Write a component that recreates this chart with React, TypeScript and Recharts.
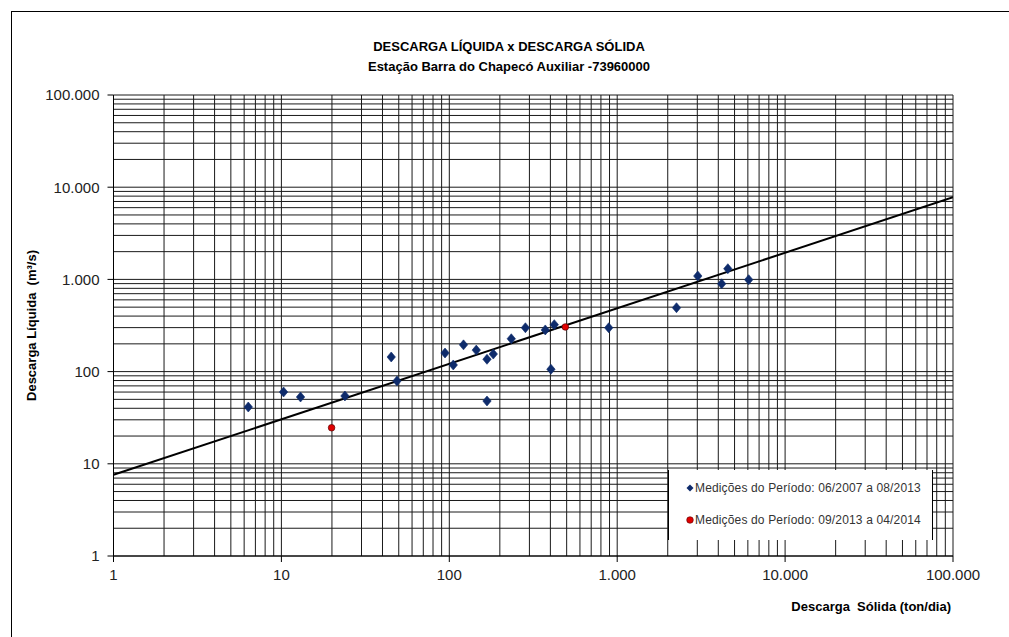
import React from 'react';
import { ScatterChart, Scatter, XAxis, YAxis, CartesianGrid, Legend, Label } from 'recharts';

// ---- data ----
const majorTicks = [1, 10, 100, 1000, 10000, 100000];
const majorLabels = ['1', '10', '100', '1.000', '10.000', '100.000'];
const minorMultipliers = [2, 3, 4, 5, 6, 7, 8, 9];

// Descarga Sólida (ton/dia) x Descarga Líquida (m³/s)
const period1Solid = [6.35, 10.3, 13.0, 23.9, 45.1, 48.8, 94.3, 105.6, 121.5, 144.8, 167.7, 182.8, 167.7, 234, 284, 373, 422, 403, 890, 2255, 3020, 4190, 4560, 6070];
const period1Liquid = [41.3, 60.1, 53.0, 54.4, 144, 79.1, 159, 118, 195, 171, 136, 155, 48, 227, 299, 283, 323, 106, 299, 493, 1088, 896, 1306, 993];
const period2Solid = [19.9, 491];
const period2Liquid = [24.6, 305];
const trendSolid = [1, 100000];
const trendLiquid = [7.6, 7780];

const seriesNames = [
  'Medições do Período: 06/2007 a 08/2013',
  'Medições do Período: 09/2013 a 04/2014',
];
const titleText = 'DESCARGA LÍQUIDA x DESCARGA SÓLIDA';
const subtitleText = 'Estação Barra do Chapecó Auxiliar -73960000';
const xTitle = 'Descarga  Sólida (ton/dia)';
const yTitle = 'Descarga Líquida  (m³/s)';

const gridTicks: number[] = [];
majorTicks.forEach((m, i) => {
  gridTicks.push(m);
  if (i < majorTicks.length - 1) minorMultipliers.forEach((k) => gridTicks.push(k * m));
});

const zip = (xs: number[], ys: number[]) => xs.map((x, i) => ({ x, y: ys[i] }));
const data1 = zip(period1Solid, period1Liquid);
const data2 = zip(period2Solid, period2Liquid);
const trend = zip(trendSolid, trendLiquid);

const BLUE = '#0E2B6B';
const RED = '#E00000';
const narrow = '"Liberation Sans Narrow", "Arial Narrow", "Liberation Sans", Arial, sans-serif';
const sans = '"Liberation Sans", Arial, sans-serif';

const XTick = (props: any) => {
  const { x, y, payload } = props;
  const i = majorTicks.indexOf(payload.value);
  if (i < 0) return <g />;
  return (
    <g>
      <line x1={x} x2={x} y1={y} y2={y + 6} stroke="#000" strokeWidth={1} />
      <text x={x} y={y + 24} textAnchor="middle" fontFamily={sans} fontSize={15} fill="#222">
        {majorLabels[i]}
      </text>
    </g>
  );
};

const YTick = (props: any) => {
  const { x, y, payload } = props;
  const i = majorTicks.indexOf(payload.value);
  if (i < 0) return <g />;
  return (
    <g>
      <line x1={x - 6} x2={x} y1={y} y2={y} stroke="#000" strokeWidth={1} />
      <text x={x - 14} y={y} dy="0.36em" textAnchor="end" fontFamily={sans} fontSize={15} fill="#222">
        {majorLabels[i]}
      </text>
    </g>
  );
};

const Diamond = (props: any) => {
  const { cx, cy } = props;
  if (cx == null || cy == null) return <g />;
  const w = 4.2, h = 5;
  return (
    <polygon
      points={`${cx},${cy - h} ${cx + w},${cy} ${cx},${cy + h} ${cx - w},${cy}`}
      fill={BLUE}
      stroke={BLUE}
      strokeWidth={0.6}
    />
  );
};

const RedDot = (props: any) => {
  const { cx, cy } = props;
  if (cx == null || cy == null) return <g />;
  return <circle cx={cx} cy={cy} r={3.3} fill={RED} stroke="#5a0000" strokeWidth={0.7} />;
};

const NoShape = () => <g />;

const LegendBox = () => (
  <div
    style={{
      width: 265,
      height: 70,
      background: '#fff',
      borderLeft: '1px solid #000',
      borderRight: '1px solid #000',
      boxSizing: 'border-box',
      fontFamily: sans,
      fontSize: 12,
      color: '#333',
      position: 'relative',
    }}
  >
    <div style={{ position: 'absolute', left: 17, top: 11, whiteSpace: 'nowrap', display: 'flex', alignItems: 'center', letterSpacing: '0.15px' }}>
      <svg width={8} height={8} style={{ marginRight: 1 }}>
        <polygon points="4,0.5 7.5,4 4,7.5 0.5,4" fill={BLUE} />
      </svg>
      {seriesNames[0]}
    </div>
    <div style={{ position: 'absolute', left: 17, top: 43, whiteSpace: 'nowrap', display: 'flex', alignItems: 'center', letterSpacing: '0.15px' }}>
      <svg width={8} height={8} style={{ marginRight: 1 }}>
        <circle cx={4} cy={4} r={3.3} fill={RED} stroke="#5a0000" strokeWidth={0.6} />
      </svg>
      {seriesNames[1]}
    </div>
  </div>
);

export default function App() {
  return (
    <div style={{ position: 'absolute', left: 0, top: 0, width: 1009, height: 637, background: '#fff', overflow: 'hidden' }}>
      <div
        style={{
          position: 'absolute',
          left: 11,
          top: 11,
          width: 998,
          height: 626,
          borderLeft: '1px solid #000',
          borderTop: '1px solid #000',
          boxSizing: 'border-box',
        }}
      />
      <div
        style={{
          position: 'absolute',
          left: 209,
          width: 600,
          top: 37,
          textAlign: 'center',
          fontFamily: narrow,
          fontWeight: 'bold',
          fontSize: 13,
          lineHeight: '20px',
          color: '#000',
        }}
      >
        <div>{titleText}</div>
        <div>{subtitleText}</div>
      </div>
      <ScatterChart width={1009} height={637} margin={{ top: 95, right: 56, bottom: 51, left: 0 }}>
        <CartesianGrid stroke="#1a1a1a" strokeWidth={1} />
        <XAxis
          type="number"
          dataKey="x"
          scale="log"
          domain={[1, 100000]}
          ticks={gridTicks}
          interval={0}
          allowDataOverflow
          height={30}
          tickLine={false}
          tickSize={0}
          tickMargin={0}
          axisLine={{ stroke: '#000' }}
          tick={<XTick />}
        >
          <Label
            content={(p: any) => {
              const vb = p.viewBox || {};
              return (
                <text
                  x={vb.x + vb.width - 2}
                  y={vb.y + 55}
                  textAnchor="end"
                  fontFamily={narrow}
                  fontWeight="bold"
                  fontSize={13}
                  fill="#000"
                  style={{ whiteSpace: 'pre' }}
                >
                  {xTitle}
                </text>
              );
            }}
          />
        </XAxis>
        <YAxis
          type="number"
          dataKey="y"
          scale="log"
          domain={[1, 100000]}
          ticks={gridTicks}
          interval={0}
          allowDataOverflow
          width={113.5}
          tickLine={false}
          tickSize={0}
          tickMargin={0}
          axisLine={{ stroke: '#000' }}
          tick={<YTick />}
        >
          <Label
            content={(p: any) => {
              const vb = p.viewBox || {};
              const cx = vb.x + 36;
              const cy = vb.y + vb.height / 2;
              return (
                <text
                  x={cx}
                  y={cy}
                  textAnchor="middle"
                  transform={`rotate(-90, ${cx}, ${cy})`}
                  fontFamily={narrow}
                  fontWeight="bold"
                  fontSize={13}
                  fill="#000"
                  style={{ whiteSpace: 'pre' }}
                >
                  {yTitle}
                </text>
              );
            }}
          />
        </YAxis>
        <Scatter
          name="Tendência"
          data={trend}
          line={{ stroke: '#000', strokeWidth: 2 }}
          lineType="joint"
          shape={NoShape}
          isAnimationActive={false}
          legendType="none"
        />
        <Scatter name={seriesNames[0]} data={data1} shape={Diamond} isAnimationActive={false} />
        <Scatter name={seriesNames[1]} data={data2} shape={RedDot} isAnimationActive={false} />
        <Legend
          layout="vertical"
          align="center"
          verticalAlign="middle"
          content={() => <LegendBox />}
          wrapperStyle={{ position: 'absolute', left: 668, top: 470, width: 265, height: 70, bottom: 'auto', right: 'auto' }}
        />
      </ScatterChart>
    </div>
  );
}
